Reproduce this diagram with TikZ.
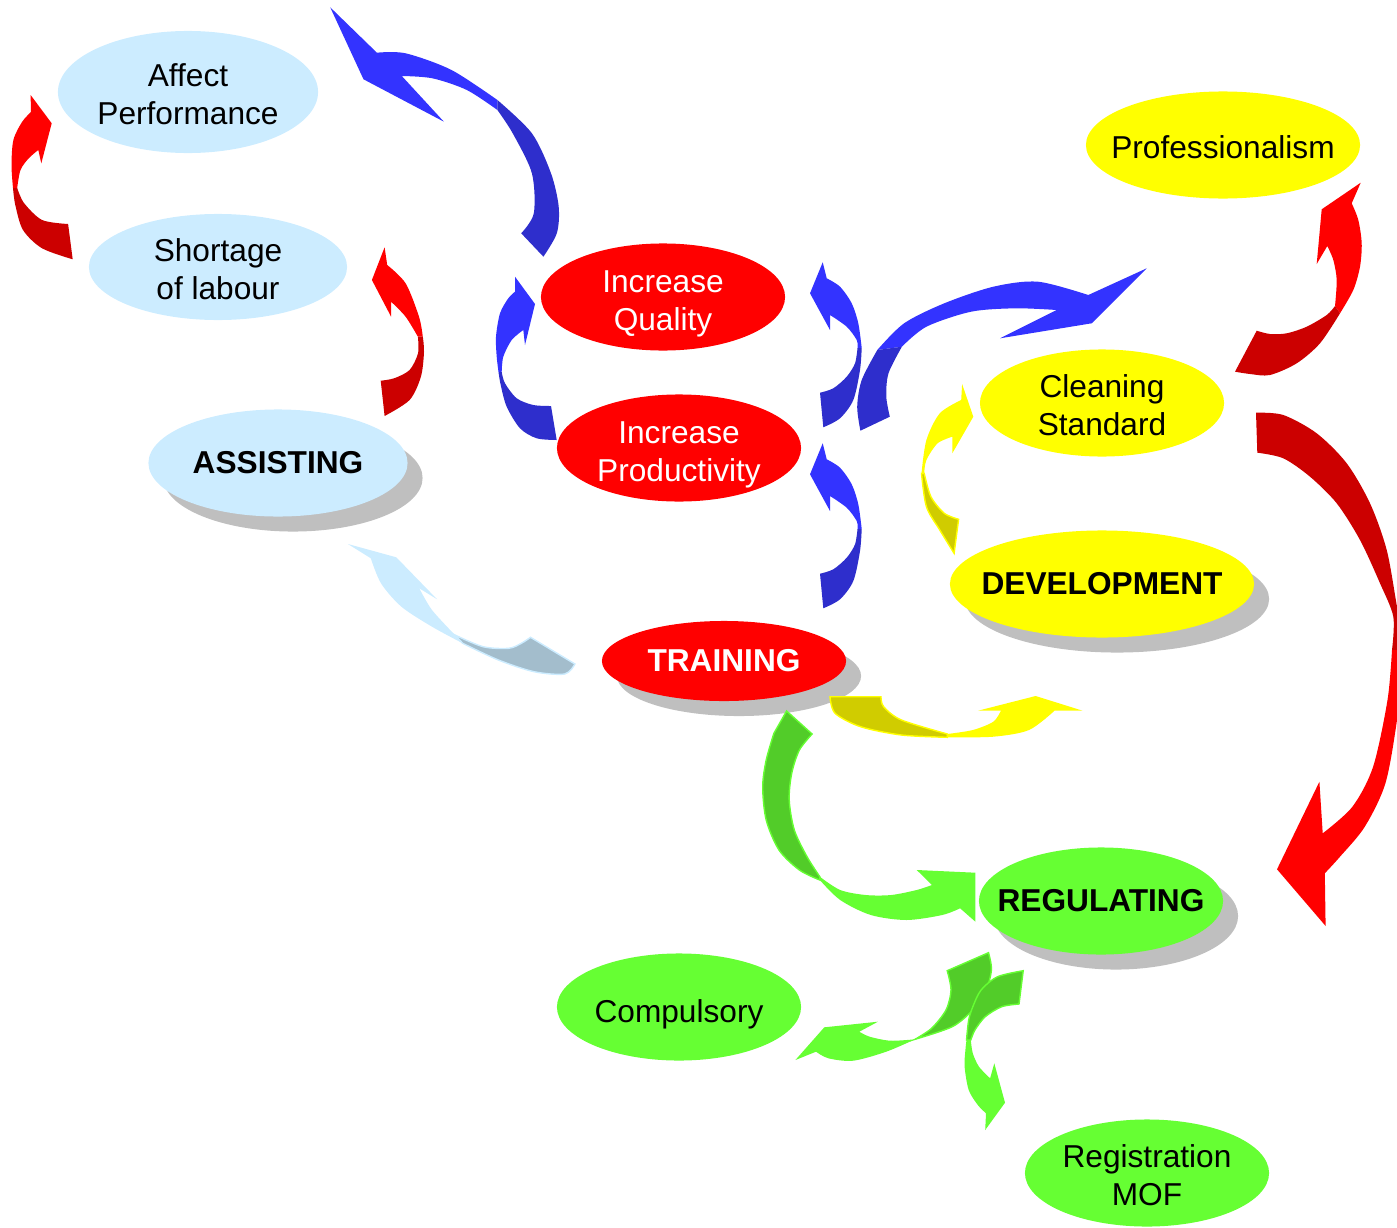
\documentclass[tikz,border=0pt]{standalone}
\usepackage{fontspec}
\setmainfont{Liberation Sans}
\usetikzlibrary{shapes,shadows}
\definecolor{skyblue}{HTML}{CCECFF}
\definecolor{skyshade}{HTML}{A3BDCC}
\definecolor{hotred}{HTML}{FF0000}
\definecolor{darkred}{HTML}{CC0000}
\definecolor{royal}{HTML}{3333FF}
\definecolor{royaldark}{HTML}{2E2ECC}
\definecolor{lemon}{HTML}{FFFF00}
\definecolor{lemondark}{HTML}{D0CC00}
\definecolor{leaf}{HTML}{66FF33}
\definecolor{leafdark}{HTML}{52CC29}
\tikzstyle{bubble}=[ellipse,inner sep=0pt,minimum width=2.44cm,minimum height=1.07cm]
\tikzstyle{dropped}=[drop shadow={shadow xshift=0.15cm,shadow yshift=-0.15cm,fill=black!25,opacity=1}]
\tikzstyle{txt}=[align=center,yshift=-0.02cm,font=\fontsize{9pt}{10.8pt}\selectfont]
\tikzstyle{btxt}=[align=center,font=\fontsize{9pt}{10.8pt}\selectfont\bfseries]

\begin{document}
\begin{tikzpicture}[x=0.01cm,y=-0.01cm]
    \path[use as bounding box] (0,0) rectangle (1397,1227);
    \clip (0,0) rectangle (1397,1227);

    % First we draw the bubbles
    \node[bubble,fill=skyblue,minimum width=2.6cm,minimum height=1.22cm,label={[txt]center:Affect\\Performance}] (affect) at (188,92) {};
    \node[bubble,fill=skyblue,minimum width=2.58cm,minimum height=1.06cm,label={[txt]center:Shortage\\of labour}] (shortage) at (218,267) {};
    \node[bubble,dropped,fill=skyblue,minimum width=2.59cm,label={[btxt]center:ASSISTING}] (assist) at (278,463) {};

    \node[bubble,fill=hotred,label={[txt,yshift=-0.05cm,text=white]center:Increase\\Quality}] (quality) at (663,297) {};
    \node[bubble,fill=hotred,label={[txt,yshift=-0.05cm,text=white]center:Increase\\Productivity}] (product) at (679,448) {};
    \node[bubble,dropped,fill=hotred,minimum height=0.8cm,label={[btxt,text=white]center:TRAINING}] (train) at (724,661) {};

    \node[bubble,fill=lemon,minimum width=2.74cm,label={[txt]center:Professionalism}] (prof) at (1223,145) {};
    \node[bubble,fill=lemon,label={[txt]center:Cleaning\\Standard}] (clean) at (1102,403) {};
    \node[bubble,dropped,fill=lemon,minimum width=3.04cm,label={[btxt]center:DEVELOPMENT}] (develop) at (1102,584) {};

    \node[bubble,dropped,fill=leaf,label={[btxt]center:REGULATING}] (regul) at (1101,901) {};
    \node[bubble,fill=leaf,label={[txt,yshift=-0.05cm]center:Compulsory}] (compul) at (679,1007) {};
    \node[bubble,fill=leaf,label={[txt]center:Registration\\MOF}] (regist) at (1147,1173) {};

    % Then the twisted arrows, head part light and tail part dark
    % shortage -> affect
    \fill[hotred] (30.6,95) -- (51.7,123.3) -- (41.3,163.3) -- (38.3,150)
        -- plot[smooth] coordinates {(38.3,150) (28.7,158.3) (20.5,170) (17.2,188)}
        -- plot[smooth] coordinates {(13,188) (11.5,165) (13.4,140) (22,122) (31,112)} -- cycle;
    \fill[darkred] (17.2,188)
        -- plot[smooth] coordinates {(13,188) (15.3,205) (23,230) (42.1,248.3) (72.7,259.3)}
        -- plot[smooth] coordinates {(68.1,224) (42.1,220) (24,203) (17.2,188)} -- cycle;

    % quality -> top left
    \fill[royal] (330.2,7.3) -- (376.9,52.7)
        -- plot[smooth] coordinates {(376.9,52.7) (405.6,53.3) (451.5,70) (497.4,100)}
        -- plot[smooth] coordinates {(497.4,110) (466.8,90) (432.4,78.3) (401.8,76)}
        -- (443.9,121.7) -- (363.5,79.3) -- cycle;
    \fill[royaldark] (497.4,100)
        -- plot[smooth] coordinates {(497.4,100) (531.9,133.3) (551,173.3) (558.7,206.7) (556.8,233.3) (543.4,256.7)}
        -- plot[smooth] coordinates {(521.2,233.3) (533.8,213.3) (531.9,173.3) (512.7,133.3) (497.4,110)} -- cycle;

    % assisting -> shortage
    \fill[hotred] (384.6,247.3) -- (387.2,265)
        -- plot[smooth] coordinates {(387.2,265) (405.6,283.3) (419,316.7) (422.8,336.7)}
        -- plot[smooth] coordinates {(417.9,336.7) (405.6,316.7) (391.1,301.7)}
        -- (391.1,316.7) -- (371.9,280) -- cycle;
    \fill[darkred] (422.8,336.7)
        -- plot[smooth] coordinates {(422.8,336.7) (424,352) (420.9,376.7) (409.6,400) (384.6,416)}
        -- plot[smooth] coordinates {(380.7,380.7) (394.1,378.3) (409.6,370) (418,353.3) (417.9,336.7)} -- cycle;

    % productivity -> quality
    \fill[royal] (515,276.7) -- (535,304) -- (525,345) -- (523.3,330)
        -- plot[smooth] coordinates {(523.3,330) (511.7,340) (503.3,356.7) (501.7,372)}
        -- plot[smooth] coordinates {(498.5,372) (496.7,356.7) (496,336.7) (500,313.3) (508.3,298.3) (515,291.7)} -- cycle;
    \fill[royaldark] (501.7,372)
        -- plot[smooth] coordinates {(501.7,372) (505,383.3) (516.7,398.3) (533.3,405) (551,406)}
        -- plot[smooth] coordinates {(556.7,440) (536.7,438.3) (520,428.3) (506.7,406.7) (500.7,385) (498.5,372)} -- cycle;

    % the two small loops right of quality and productivity
    \foreach \dy in {0,181}{
        \begin{scope}[shift={(0,\dy)}]
        \fill[royal] (822.7,262.3) -- (826.7,278.3)
            -- plot[smooth] coordinates {(826.7,278.3) (840,286.7) (851.7,303.3) (858.3,323.3) (861.7,348)}
            -- plot[smooth] coordinates {(857.5,348) (856.7,340) (846.7,326.7) (830,315)}
            -- (830,330) -- (810,293.3) -- cycle;
        \fill[royaldark] (861.7,348)
            -- plot[smooth] coordinates {(861.7,348) (860,370) (853.3,400) (840,418.3) (823.3,427.3)}
            -- plot[smooth] coordinates {(820,392.7) (833.3,388.3) (846.7,376.7) (855,363.3) (857.5,348)} -- cycle;
        \end{scope}
    }

    % quality -> cleaning standard
    \fill[royal] (877.3,350)
        -- plot[smooth] coordinates {(877.3,350) (904.1,323.3) (944.3,303.3) (993.4,286.7) (1038,281.7) (1088.3,295)}
        -- (1146.7,268.3) -- (1091.7,323.3) -- (1000,338.3) -- (1056.7,310)
        -- plot[smooth] coordinates {(1056.7,310) (1015.7,308.3) (971.1,311.7) (926.4,326.7) (901.9,346.7)} -- cycle;
    \fill[royaldark] (877.3,350)
        -- plot[smooth] coordinates {(877.3,350) (861.7,380) (857.2,406.7) (860.4,430.7)}
        -- plot[smooth] coordinates {(889.8,416.7) (886.3,396.7) (888.5,373.3) (901.9,346.7)} -- cycle;

    % development -> cleaning standard
    \fill[lemon] (962.1,384) -- (973.3,416.7) -- (952.3,453.3) -- (952.3,436.7)
        -- plot[smooth] coordinates {(952.3,436.7) (937.6,443.3) (926.4,460) (924.2,473.3)}
        -- plot[smooth] coordinates {(921.5,473.3) (926.4,440) (939.8,413.3) (961.2,400)} -- cycle;
    \filldraw[fill=lemondark,draw=lemon,thin] (924.2,473.3)
        -- plot[smooth] coordinates {(924.2,473.3) (930.9,496.7) (944.3,513.3) (958.6,519.3)}
        -- plot[smooth] coordinates {(954.1,553.3) (939.8,530) (926.4,506.7) (921.5,473.3)} -- cycle;

    % cleaning standard -> professionalism
    \fill[hotred] (1360.7,182.7) -- (1351.7,203.3)
        -- plot[smooth] coordinates {(1351.7,203.3) (1358.3,220) (1361.7,243.3) (1360,266.7) (1353.3,290) (1340,313.3)}
        -- plot[smooth] coordinates {(1335,306) (1336.7,280) (1333.3,260) (1327.3,246)}
        -- (1316.7,264) -- (1321.7,209.3) -- cycle;
    \fill[darkred] (1340,313.3)
        -- plot[smooth] coordinates {(1340,313.3) (1320,343.3) (1296.7,363.3) (1270,375) (1250,374) (1235,371.7)}
        -- plot[smooth] coordinates {(1256.7,330.7) (1270,334) (1286.7,333.3) (1306.7,326.7) (1326.7,315) (1335,306)} -- cycle;

    % cleaning standard -> regulating
    \fill[darkred] (1256,412.7)
        -- plot[smooth] coordinates {(1256,412.7) (1283.3,415) (1316.7,433.3) (1346.7,463.3) (1370,503.3) (1386.7,550) (1397,606.7) (1405,650)}
        -- plot[smooth] coordinates {(1392,650) (1393.3,616.7) (1380,583.3) (1360,540) (1336.7,503.3) (1310,476.7) (1283.3,458.3) (1257.3,452.7)} -- cycle;
    \fill[hotred] (1405,650)
        -- plot[smooth] coordinates {(1405,650) (1397,720) (1385.4,783.3) (1364.8,826.7) (1340,856.7) (1324.8,873.3)}
        -- (1325.6,926) -- (1277,869.3) -- (1319.4,781.7) -- (1322.7,833.3)
        -- plot[smooth] coordinates {(1322.7,833.3) (1352.4,806.7) (1373.1,766.7) (1387.5,700) (1392,650)} -- cycle;

    % training -> assisting
    \fill[skyblue] (347.9,544) -- (396.3,557.3) -- (437.1,599.3) -- (419.3,588.3)
        -- plot[smooth] coordinates {(419.3,588.3) (432,610) (455,635)}
        -- plot[smooth] coordinates {(462.7,643.3) (432,626.7) (401.4,606.7) (381,583.3) (370.8,558.3)} -- cycle;
    \filldraw[fill=skyshade,draw=skyblue,thin] (455,635)
        -- plot[smooth] coordinates {(455,635) (483.1,646.7) (508.6,648.3) (521.3,643.3) (530.5,637.3)}
        -- (574.9,664)
        -- plot[smooth] coordinates {(574.9,664) (564.7,674) (534.1,671.7) (498.4,660) (462.7,643.3)} -- cycle;

    % training -> development
    \filldraw[fill=lemondark,draw=lemon,thin] (830,696.7) -- (881,696.7)
        -- plot[smooth] coordinates {(881,696.7) (883.6,706.7) (901.4,720) (947.3,734)}
        -- plot[smooth] coordinates {(947.3,737.3) (901.4,735) (860.6,726.7) (835.1,713.3) (830,696.7)} -- cycle;
    \fill[lemon] (947.3,734)
        -- plot[smooth] coordinates {(947.3,734) (972.9,730) (993.3,721.7) (1000.9,710.7)}
        -- (978,710.7) -- (1035.6,696) -- (1082.6,710.7) -- (1054.5,710.7)
        -- plot[smooth] coordinates {(1054.5,710.7) (1029,730) (993.3,736.7) (947.3,737.3)} -- cycle;

    % training -> regulating
    \filldraw[fill=leafdark,draw=leaf,thin] (786.6,711) -- (812.1,734)
        -- plot[smooth] coordinates {(812.1,734) (799.4,750) (791.7,773.3) (789.2,800) (794.3,830) (807,856.7) (819.8,876.7)}
        -- plot[smooth] coordinates {(819.8,880) (799.4,870) (779,850) (766.2,820) (762.7,786.7) (766.2,760) (773.9,733.3)} -- cycle;
    \fill[leaf] (819.8,876.7)
        -- plot[smooth] coordinates {(819.8,876.7) (840.2,890) (865.7,895) (891.2,895) (916.7,890) (932,885)}
        -- (916.7,870) -- (975.4,872.7) -- (975.4,921.7) -- (960.1,908.3)
        -- plot[smooth] coordinates {(960.1,908.3) (942.2,915) (906.5,920) (870.8,915) (840.2,900) (819.8,880)} -- cycle;

    % regulating -> compulsory
    \filldraw[fill=leafdark,draw=leaf,thin] (947.2,970.7) -- (988.5,952.7)
        -- plot[smooth] coordinates {(988.5,952.7) (991.4,970) (985.2,993.3) (972.8,1010) (952.2,1026.7) (915,1039.3)}
        -- plot[smooth] coordinates {(915,1039.3) (931.6,1028.3) (946,1010) (951,990) (947.2,970.7)} -- cycle;
    \fill[leaf] (915,1039.3)
        -- plot[smooth] coordinates {(915,1039.3) (890.3,1040.7) (869.7,1036.7) (859.3,1031.7)}
        -- (877.9,1021.7) -- (824.3,1027.3) -- (795.4,1060) -- (816,1051.7)
        -- plot[smooth] coordinates {(816,1051.7) (828.4,1058.3) (853.2,1060.7) (886.2,1051.7) (915,1039.3)} -- cycle;

    % regulating -> registration
    \filldraw[fill=leafdark,draw=leaf,thin] (1023.2,970.7)
        -- plot[smooth] coordinates {(1023.2,970.7) (997.6,976.7) (981.1,990) (972.8,1006.7) (968.7,1020) (966.5,1040)}
        -- plot[smooth] coordinates {(970.8,1040) (974.9,1030) (985.2,1016.7) (1001.7,1006.7) (1019,1004)} -- cycle;
    \fill[leaf] (966.5,1040)
        -- plot[smooth] coordinates {(966.5,1040) (965.4,1050) (964.6,1066.7) (968.7,1090) (977.8,1105) (986,1113.3)}
        -- (985.2,1130) -- (1005,1102.7) -- (994.3,1063.3) -- (990.1,1078.3)
        -- plot[smooth] coordinates {(990.1,1078.3) (979,1066.7) (972.8,1053.3) (970.8,1040)} -- cycle;
\end{tikzpicture}
\end{document}
